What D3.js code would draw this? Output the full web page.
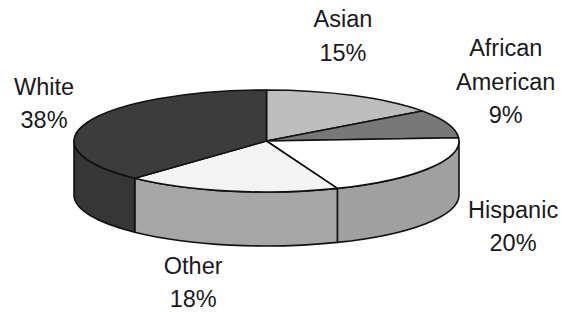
<!DOCTYPE html>
<html><head><meta charset="utf-8">
<script src="https://cdn.jsdelivr.net/npm/d3@7"></script>
<style>html,body{margin:0;padding:0;background:#fff;} svg{display:block;}</style>
</head><body><svg id="chart" width="573" height="312"></svg>
<script>
// ---- data ----
const categories = ["Asian", "African American", "Hispanic", "Other", "White"];
const values = [15, 9, 20, 18, 38];
const labelLines = [["Asian"], ["African", "American"], ["Hispanic"], ["Other"], ["White"]];

// ---- styles / layout ----
const topColors  = ["#bebebe", "#787878", "#ffffff", "#f3f3f3", "#3c3c3c"];
const sideColors = ["#a8a8a8", "#666666", "#a0a0a0", "#a6a6a6", "#363636"];
const W = 573, H = 312;
const cx = 266.5, cy = 141, rx = 192.5, ry = 51, depth = 54;
const labelRx = 250, labelRy = 110, lineH = 33.5;
const labelNudge = [[-37, -7], [4, -22], [35.5, -27.5], [-26.5, -20.5], [10, 3]];

const svg = d3.select("#chart");
svg.append("rect").attr("width", W).attr("height", H).attr("fill", "#fff");

const pie = d3.pie().sort(null).value(d => d.value);
const arcs = pie(categories.map((c, i) => ({ cat: c, value: values[i], i })));

const px = a => cx + rx * Math.sin(a);
const py = a => cy - ry * Math.cos(a);

function topPath(d) {
  const a0 = d.startAngle, a1 = d.endAngle;
  const large = (a1 - a0) > Math.PI ? 1 : 0;
  return `M${cx},${cy}L${px(a0)},${py(a0)}A${rx},${ry} 0 ${large} 1 ${px(a1)},${py(a1)}Z`;
}

function sidePath(d) {
  const a0 = Math.max(d.startAngle, Math.PI / 2);
  const a1 = Math.min(d.endAngle, 3 * Math.PI / 2);
  if (a1 <= a0) return null;
  const large = (a1 - a0) > Math.PI ? 1 : 0;
  return `M${px(a0)},${py(a0)}A${rx},${ry} 0 ${large} 1 ${px(a1)},${py(a1)}` +
         `L${px(a1)},${py(a1) + depth}A${rx},${ry} 0 ${large} 0 ${px(a0)},${py(a0) + depth}Z`;
}

const g = svg.append("g");

g.selectAll("path.side")
  .data(arcs.filter(d => sidePath(d)))
  .join("path")
  .attr("class", "side")
  .attr("d", sidePath)
  .attr("fill", d => sideColors[d.data.i])
  .attr("stroke", "#111")
  .attr("stroke-width", 1.6)
  .attr("stroke-linejoin", "round");

g.selectAll("path.top")
  .data(arcs)
  .join("path")
  .attr("class", "top")
  .attr("d", topPath)
  .attr("fill", d => topColors[d.data.i])
  .attr("stroke", "#111")
  .attr("stroke-width", 1.6)
  .attr("stroke-linejoin", "round");

// labels
const labels = svg.append("g")
  .attr("font-family", "'Liberation Sans', Arial, sans-serif")
  .attr("font-size", 23.5)
  .attr("fill", "#1a1a1a")
  .attr("text-anchor", "middle");

arcs.forEach(d => {
  const i = d.data.i;
  const a = (d.startAngle + d.endAngle) / 2;
  const bx = cx + labelRx * Math.sin(a) + labelNudge[i][0];
  const by = cy - labelRy * Math.cos(a) + (Math.cos(a) < 0 ? depth : 0) + labelNudge[i][1];
  const lines = labelLines[i].concat([values[i] + "%"]);
  const n = lines.length;
  const t = labels.append("text");
  lines.forEach((ln, k) => {
    t.append("tspan")
      .attr("x", bx)
      .attr("y", by + (k - (n - 1) / 2) * lineH + 8)
      .text(ln);
  });
});
</script>
</body></html>
